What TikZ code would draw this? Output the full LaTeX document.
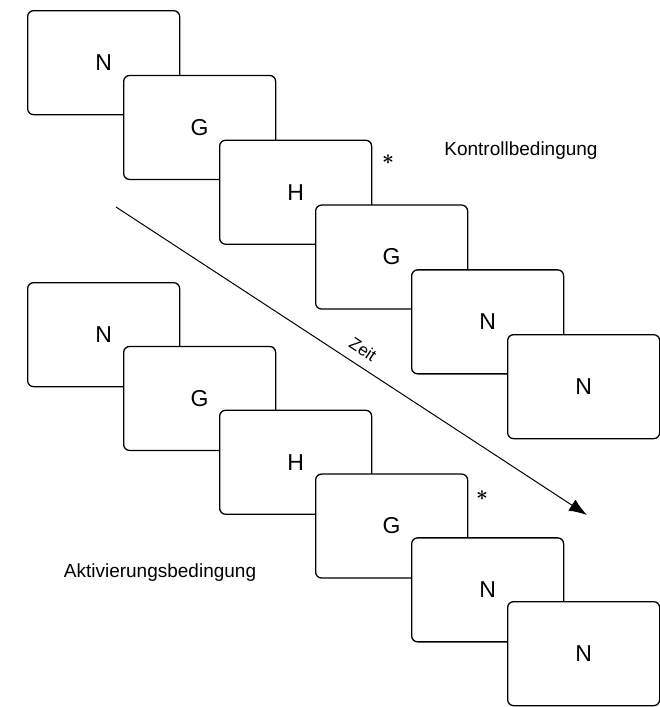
\documentclass[tikz,border=0pt]{standalone}
\usepackage{fontspec}
\setmainfont{Liberation Sans}
\usetikzlibrary{arrows.meta}
\tikzset{
  card/.style={draw=black, fill=white, line width=1.3pt, rounded corners=6pt,
    minimum width=152pt, minimum height=104pt, inner sep=0pt, anchor=north west,
    font=\fontsize{23}{27}\selectfont},
  condlabel/.style={font=\fontsize{19}{23}\selectfont, inner sep=0pt},
  mark star/.style={font=\fontsize{22}{26}\selectfont\boldmath, inner sep=0pt},
  timearrow/.style={line width=1pt, -{Latex[length=18pt,width=13pt]}}
}
\begin{document}
\begin{tikzpicture}[x=1pt,y=-1pt]
  \useasboundingbox (0,0) rectangle (660,707);
  % control condition: sequence N G H G N N
  \foreach \t [count=\i from 0] in {N,G,H,G,N,N} {
    \node[card] (k\i) at ({27+96*\i},{10+64.8*\i}) {\raisebox{-4pt}{\t}};
  }
  % activation condition: same sequence
  \foreach \t [count=\i from 0] in {N,G,H,G,N,N} {
    \node[card] (a\i) at ({27+96*\i},{282+63.8*\i}) {\raisebox{-4pt}{\t}};
  }
  % target markers
  \node[mark star] (sk) at (388,160) {$\ast$};
  \node[mark star] (sa) at (482,496) {$\ast$};
  % condition labels
  \node[condlabel] (lk) at (521,151) {Kontrollbedingung};
  \node[condlabel] (la) at (160,573) {Aktivierungsbedingung};
  % time axis
  \coordinate (z0) at (116,207);
  \coordinate (z1) at (587,515);
  \draw[timearrow] (z0) -- (z1);
  \node[font=\fontsize{17}{20}\selectfont, rotate=-33.2, inner sep=0pt] (zeit) at (363,349) {Zeit};
\end{tikzpicture}
\end{document}
